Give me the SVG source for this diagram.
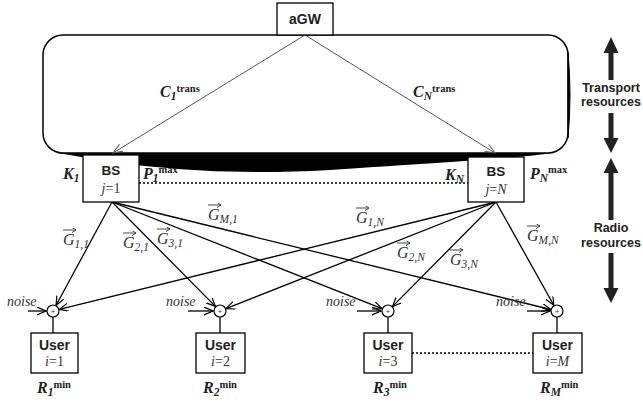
<svg xmlns="http://www.w3.org/2000/svg" width="643" height="406" viewBox="0 0 643 406">
<style>
.box{fill:#fff;stroke:#000;stroke-width:1.3}
.bs{font-family:"Liberation Sans",Arial,sans-serif;font-weight:bold;fill:#222;text-anchor:middle}
.it{font-family:"Liberation Serif","Times New Roman",serif;font-style:italic;fill:#333}
.up{font-style:normal}
.bi{font-family:"Liberation Serif","Times New Roman",serif;font-style:italic;font-weight:bold;fill:#222;font-size:16px}
.sup{font-style:normal;font-size:10.5px}
.sub{font-size:11.5px}
.edge{stroke:#000;stroke-width:1.3;fill:none;marker-end:url(#ah)}
.gedge{stroke:#555;stroke-width:1;fill:none;marker-end:url(#gah)}
.vec{stroke:#333;stroke-width:0.9;fill:none;marker-end:url(#va)}
.big{fill:#222}
</style>
<defs>
<marker id="ah" markerWidth="10" markerHeight="10" refX="9" refY="4" orient="auto" markerUnits="userSpaceOnUse"><path d="M0,0 L9,4 L0,8" fill="none" stroke="#000" stroke-width="1.2"/></marker>
<marker id="gah" markerWidth="12" markerHeight="10" refX="10" refY="4" orient="auto" markerUnits="userSpaceOnUse"><path d="M0,0 L10,4 L0,8" fill="none" stroke="#555" stroke-width="1"/></marker>
<marker id="va" markerWidth="6" markerHeight="6" refX="4" refY="2.5" orient="auto" markerUnits="userSpaceOnUse"><path d="M0,0 L4,2.5 L0,5" fill="none" stroke="#333" stroke-width="0.9"/></marker>
</defs>

<!-- transport cloud -->
<g id="cloud">
<rect x="43" y="35" width="525" height="118" rx="20" ry="20" fill="none" stroke="#000" stroke-width="1.5"/>
<path d="M568,52 Q572,95 568,138 Z" fill="#000" stroke="#000" stroke-width="1"/>
<path d="M58,153 L552,153 C520,158 450,162 330,170 C220,176 140,168 58,153 Z" fill="#000"/>
</g>

<g id="connectors">
<path class="gedge" d="M305,35 L113,153"/>
<path class="gedge" d="M305,35 L495,153"/>
<path class="edge" d="M112,202 L56.1,305.3"/>
<path class="edge" d="M112,202 L215.4,306.4"/>
<path class="edge" d="M112,202 L382,308.6"/>
<path class="edge" d="M112,202 L550.7,309.5"/>
<path class="edge" d="M496,202 L59.3,309.4"/>
<path class="edge" d="M496,202 L226,308.6"/>
<path class="edge" d="M496,202 L392.6,306.4"/>
<path class="edge" d="M496,202 L553.8,305.3"/>
<path class="edge" d="M28,311 L46,311"/>
<path class="edge" d="M188,311 L213,311"/>
<path class="edge" d="M357,311 L381,311"/>
<path class="edge" d="M527,311 L550,311"/>
<path d="M139,183 L468,183" stroke="#000" stroke-width="1.3" stroke-dasharray="2,2"/>
<path d="M412,353 L533,353" stroke="#000" stroke-width="1.3" stroke-dasharray="2,2"/>
<path d="M53,317 L53,333 M220,317 L220,333 M388,317 L388,333 M557,317 L557,333" stroke="#000" stroke-width="1.3"/>
</g>

<g id="aGW">
<rect class="box" x="277" y="3" width="56" height="32"/>
<text class="bs" x="305" y="24" font-size="14">aGW</text>
</g>

<g id="trans-labels">
<text class="bi" x="160" y="97">C<tspan class="sub" dy="3">1</tspan><tspan class="sup" dy="-8">trans</tspan></text>
<text class="bi" x="413" y="97">C<tspan class="sub" dy="3">N</tspan><tspan class="sup" dy="-8">trans</tspan></text>
</g>

<g id="bs1">
<rect class="box" x="83" y="155" width="56" height="47"/>
<text class="bs" x="111" y="175" font-size="13.5">BS</text>
<text class="it" x="111" y="193" font-size="14" text-anchor="middle">j<tspan class="up">=1</tspan></text>
<text class="bi" x="63" y="179">K<tspan class="sub" dy="3">1</tspan></text>
<text class="bi" x="143" y="179">P<tspan class="sub" dy="3">1</tspan><tspan class="sup" dy="-9">max</tspan></text>
</g>

<g id="bsN">
<rect class="box" x="468" y="157" width="56" height="45"/>
<text class="bs" x="496" y="176" font-size="13.5">BS</text>
<text class="it" x="496" y="194" font-size="14" text-anchor="middle">j<tspan class="up">=</tspan>N</text>
<text class="bi" x="445" y="180">K<tspan class="sub" dy="3">N</tspan></text>
<text class="bi" x="530" y="179">P<tspan class="sub" dy="3">N</tspan><tspan class="sup" dy="-9">max</tspan></text>
</g>

<g id="gains">
<text class="it" x="63" y="245" font-size="16">G<tspan class="sub" font-size="12" dy="3">1,1</tspan></text>
<path class="vec" d="M63,230 L76,230"/>
<text class="it" x="123" y="248" font-size="16">G<tspan class="sub" font-size="12" dy="3">2,1</tspan></text>
<path class="vec" d="M123,233 L136,233"/>
<text class="it" x="157" y="244" font-size="16">G<tspan class="sub" font-size="12" dy="3">3,1</tspan></text>
<path class="vec" d="M157,229 L170,229"/>
<text class="it" x="208" y="220" font-size="16">G<tspan class="sub" font-size="12" dy="3">M,1</tspan></text>
<path class="vec" d="M208,205 L221,205"/>
<text class="it" x="356" y="223" font-size="16">G<tspan class="sub" font-size="12" dy="3">1,N</tspan></text>
<path class="vec" d="M356,208 L369,208"/>
<text class="it" x="397" y="258" font-size="16">G<tspan class="sub" font-size="12" dy="3">2,N</tspan></text>
<path class="vec" d="M397,243 L410,243"/>
<text class="it" x="450" y="265" font-size="16">G<tspan class="sub" font-size="12" dy="3">3,N</tspan></text>
<path class="vec" d="M450,250 L463,250"/>
<text class="it" x="527" y="241" font-size="16">G<tspan class="sub" font-size="12" dy="3">M,N</tspan></text>
<path class="vec" d="M527,226 L540,226"/>
</g>

<g id="sum1"><circle cx="53" cy="311" r="6" fill="#fff" stroke="#000" stroke-width="1.2"/><text x="53" y="314" font-family="Liberation Sans,sans-serif" font-size="8" fill="#444" text-anchor="middle">+</text><text class="it" x="7" y="306" font-size="14">noise</text></g>
<g id="sum2"><circle cx="220" cy="311" r="6" fill="#fff" stroke="#000" stroke-width="1.2"/><text x="220" y="314" font-family="Liberation Sans,sans-serif" font-size="8" fill="#444" text-anchor="middle">+</text><text class="it" x="166" y="306" font-size="14">noise</text></g>
<g id="sum3"><circle cx="388" cy="311" r="6" fill="#fff" stroke="#000" stroke-width="1.2"/><text x="388" y="314" font-family="Liberation Sans,sans-serif" font-size="8" fill="#444" text-anchor="middle">+</text><text class="it" x="326" y="306" font-size="14">noise</text></g>
<g id="sum4"><circle cx="557" cy="311" r="6" fill="#fff" stroke="#000" stroke-width="1.2"/><text x="557" y="314" font-family="Liberation Sans,sans-serif" font-size="8" fill="#444" text-anchor="middle">+</text><text class="it" x="496" y="306" font-size="14">noise</text></g>

<g id="user1">
<rect class="box" x="31" y="333" width="47" height="40"/>
<text class="bs" x="54.5" y="350" font-size="14">User</text>
<text class="it" x="54.5" y="366" font-size="14" text-anchor="middle">i<tspan class="up">=1</tspan></text>
<text class="bi" x="37" y="393">R<tspan class="sub" dy="3">1</tspan><tspan class="sup" dy="-8">min</tspan></text>
</g>
<g id="user2">
<rect class="box" x="196" y="333" width="49" height="40"/>
<text class="bs" x="220.5" y="350" font-size="14">User</text>
<text class="it" x="220.5" y="366" font-size="14" text-anchor="middle">i<tspan class="up">=2</tspan></text>
<text class="bi" x="203" y="393">R<tspan class="sub" dy="3">2</tspan><tspan class="sup" dy="-8">min</tspan></text>
</g>
<g id="user3">
<rect class="box" x="364" y="333" width="48" height="40"/>
<text class="bs" x="388" y="350" font-size="14">User</text>
<text class="it" x="388" y="366" font-size="14" text-anchor="middle">i<tspan class="up">=3</tspan></text>
<text class="bi" x="373" y="393">R<tspan class="sub" dy="3">3</tspan><tspan class="sup" dy="-8">min</tspan></text>
</g>
<g id="userM">
<rect class="box" x="533" y="333" width="49" height="40"/>
<text class="bs" x="557.5" y="350" font-size="14">User</text>
<text class="it" x="557.5" y="366" font-size="14" text-anchor="middle">i<tspan class="up">=</tspan>M</text>
<text class="bi" x="540" y="393">R<tspan class="sub" dy="3">M</tspan><tspan class="sup" dy="-8">min</tspan></text>
</g>

<g id="resources">
<path class="big" d="M611,37 L618.5,53 L613.5,53 L613.5,80 L608.5,80 L608.5,53 L603.5,53 Z"/>
<path class="big" d="M611,153 L618.5,138 L613.5,138 L613.5,113 L608.5,113 L608.5,138 L603.5,138 Z"/>
<text class="bs" x="611" y="92" font-size="12.5">Transport</text>
<text class="bs" x="611" y="106" font-size="12.5">resources</text>
<path class="big" d="M611,158 L618.5,173 L613.5,173 L613.5,220 L608.5,220 L608.5,173 L603.5,173 Z"/>
<path class="big" d="M611,303 L618.5,288 L613.5,288 L613.5,253 L608.5,253 L608.5,288 L603.5,288 Z"/>
<text class="bs" x="611" y="232" font-size="12.5">Radio</text>
<text class="bs" x="611" y="247" font-size="12.5">resources</text>
</g>
</svg>
